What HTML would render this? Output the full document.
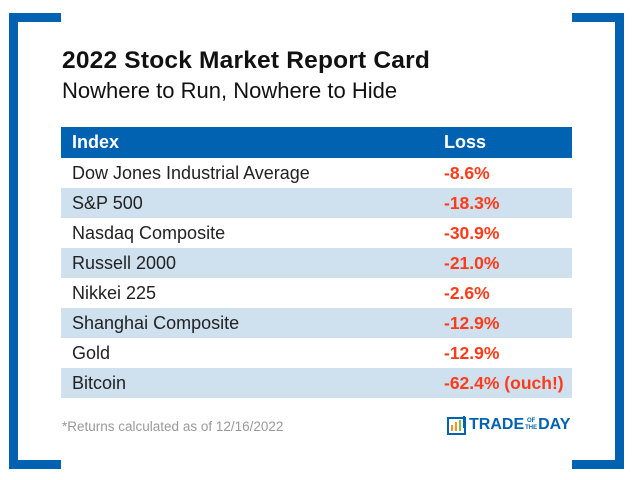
<!DOCTYPE html>
<html><head><meta charset="utf-8"><style>
body{margin:0;width:632px;height:480px;background:#fff;position:relative;overflow:hidden;font-family:"Liberation Sans",Arial,sans-serif}
.b{position:absolute;background:#0062b1}
#title{position:absolute;left:62px;top:47px;font-size:24.5px;font-weight:bold;color:#111;white-space:nowrap;letter-spacing:0.2px}
#sub{position:absolute;left:62px;top:78px;font-size:22px;color:#111;white-space:nowrap}
table{position:absolute;left:61px;top:127px;width:511px;border-collapse:collapse;font-size:18px;table-layout:fixed}
td,th{height:30px;padding:0 0 0 11px;text-align:left;white-space:nowrap;box-sizing:border-box}
th{background:#0062b1;color:#fff;font-weight:bold;height:31px}
tr.alt td{background:#cfe0ef}
td.l{color:#ff3b1a;font-weight:bold;font-size:17.5px}
td{color:#222}
#foot{position:absolute;left:62px;top:419px;font-size:13.5px;color:#999}
#logo{position:absolute;left:447px;top:414px;height:22px;display:flex;align-items:center}
</style></head><body>
<div class="b" style="left:9px;top:13px;width:52px;height:9px"></div>
<div class="b" style="left:9px;top:13px;width:9px;height:456px"></div>
<div class="b" style="left:9px;top:460px;width:52px;height:9px"></div>
<div class="b" style="left:572px;top:13px;width:52px;height:9px"></div>
<div class="b" style="left:615px;top:13px;width:9px;height:456px"></div>
<div class="b" style="left:572px;top:460px;width:52px;height:9px"></div>
<div id="title">2022 Stock Market Report Card</div>
<div id="sub">Nowhere to Run, Nowhere to Hide</div>
<table>
<colgroup><col style="width:372px"><col style="width:139px"></colgroup>
<tr><th>Index</th><th>Loss</th></tr>
<tr><td>Dow Jones Industrial Average</td><td class="l">-8.6%</td></tr>
<tr class="alt"><td>S&amp;P 500</td><td class="l">-18.3%</td></tr>
<tr><td>Nasdaq Composite</td><td class="l">-30.9%</td></tr>
<tr class="alt"><td>Russell 2000</td><td class="l">-21.0%</td></tr>
<tr><td>Nikkei 225</td><td class="l">-2.6%</td></tr>
<tr class="alt"><td>Shanghai Composite</td><td class="l">-12.9%</td></tr>
<tr><td>Gold</td><td class="l">-12.9%</td></tr>
<tr class="alt"><td>Bitcoin</td><td class="l">-62.4% (ouch!)</td></tr>
</table>
<div id="foot">*Returns calculated as of 12/16/2022</div>
<div id="logo">
<svg width="20" height="20" viewBox="0 0 20 20"><rect x="1" y="3" width="17" height="16" fill="none" stroke="#0062b1" stroke-width="2"/><rect x="4" y="10" width="2" height="6" fill="#f7931e"/><rect x="8" y="7" width="2" height="9" fill="#f7931e"/><rect x="12" y="5" width="2" height="11" fill="#7ac143"/><rect x="16" y="1" width="2" height="12" fill="#0062b1"/></svg>
<span style="color:#0062b1;font-weight:bold;font-size:16px;margin-left:2px">TRADE</span><span style="color:#0062b1;font-weight:bold;font-size:6px;line-height:7px;display:inline-block;text-align:center;margin:0 1px">OF<br>THE</span><span style="color:#0062b1;font-weight:bold;font-size:16px">DAY</span>
</div>
</body></html>
